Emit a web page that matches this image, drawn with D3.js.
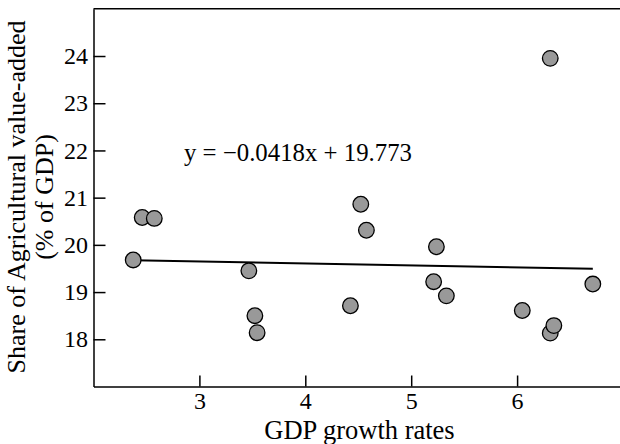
<!DOCTYPE html>
<html>
<head>
<meta charset="utf-8">
<script src="https://cdn.jsdelivr.net/npm/d3@7"></script>
<style>
  body { margin: 0; background: #fff; }
  text { font-family: "Liberation Serif", "Times New Roman", serif; fill: #000; }
</style>
</head>
<body>
<svg id="chart" width="620" height="444"></svg>
<script>
(function() {

  // GDP growth rate (x) and agricultural share of GDP (y)
  var growth = [2.375, 2.46, 2.574, 3.467, 3.524, 3.545, 4.426, 4.524, 4.577,
                5.212, 5.238, 5.332, 6.049, 6.313, 6.313, 6.347, 6.715];
  var share  = [19.68, 20.58, 20.56, 19.45, 18.50, 18.14, 18.71, 20.86, 20.31,
                19.22, 19.96, 18.92, 18.61, 23.95, 18.13, 18.29, 19.17];
  var xTicks = [3, 4, 5, 6];
  var yTicks = [18, 19, 20, 21, 22, 23, 24];
  var slope = -0.0418, intercept = 19.773;
  var equation = "y = \u22120.0418x + 19.773";

  var svg = d3.select("#chart");
  var serif = '"Liberation Serif", "Times New Roman", serif';

  var x = d3.scaleLinear().domain([2, 7]).range([93.5, 623]);
  var y = d3.scaleLinear().domain([17, 25]).range([386.5, 8.8]);

  // axes, ticks pointing inward
  var gx = svg.append("g")
      .attr("transform", "translate(0," + y(17) + ")")
      .call(d3.axisBottom(x).tickValues(xTicks).tickFormat(d3.format("d"))
        .tickSizeInner(-11).tickSizeOuter(0).tickPadding(5));

  var gy = svg.append("g")
      .attr("transform", "translate(" + x(2) + ",0)")
      .call(d3.axisLeft(y).tickValues(yTicks).tickFormat(d3.format("d"))
        .tickSizeInner(-12).tickSizeOuter(0).tickPadding(5.5));

  [gx, gy].forEach(function(g) {
    g.attr("font-family", null).attr("font-size", null);
    g.selectAll("path, line").attr("stroke", "#000").attr("stroke-width", 1.5);
    g.selectAll("text").style("font-size", "24px").style("font-family", serif);
  });

  // top frame line
  svg.append("line")
      .attr("x1", x(2)).attr("x2", 620)
      .attr("y1", y(25)).attr("y2", y(25))
      .attr("stroke", "#000").attr("stroke-width", 1.5);

  // trend line
  var xr = d3.extent(growth);
  svg.append("line")
      .attr("x1", x(xr[0])).attr("y1", y(slope * xr[0] + intercept))
      .attr("x2", x(xr[1])).attr("y2", y(slope * xr[1] + intercept))
      .attr("stroke", "#000").attr("stroke-width", 2);

  // points
  svg.append("g").selectAll("circle")
      .data(growth)
    .enter().append("circle")
      .attr("cx", function(d) { return x(d); })
      .attr("cy", function(d, i) { return y(share[i]); })
      .attr("r", 7.8)
      .style("fill", "#999")
      .attr("stroke", "#000")
      .attr("stroke-width", 1.3);

  svg.append("text")
      .attr("x", 184)
      .attr("y", 161)
      .style("font-size", "24.8px")
      .text(equation);

  // axis titles
  svg.append("text")
      .attr("x", 359.5)
      .attr("y", 438.5)
      .attr("text-anchor", "middle")
      .style("font-size", "26.5px")
      .text("GDP growth rates");

  svg.append("text")
      .attr("transform", "translate(25,197) rotate(-90)")
      .attr("text-anchor", "middle")
      .style("font-size", "26px")
      .text("Share of Agricultural value-added");

  svg.append("text")
      .attr("transform", "translate(53,197) rotate(-90)")
      .attr("text-anchor", "middle")
      .style("font-size", "26px")
      .text("(% of GDP)");

})();
</script>
</body>
</html>
